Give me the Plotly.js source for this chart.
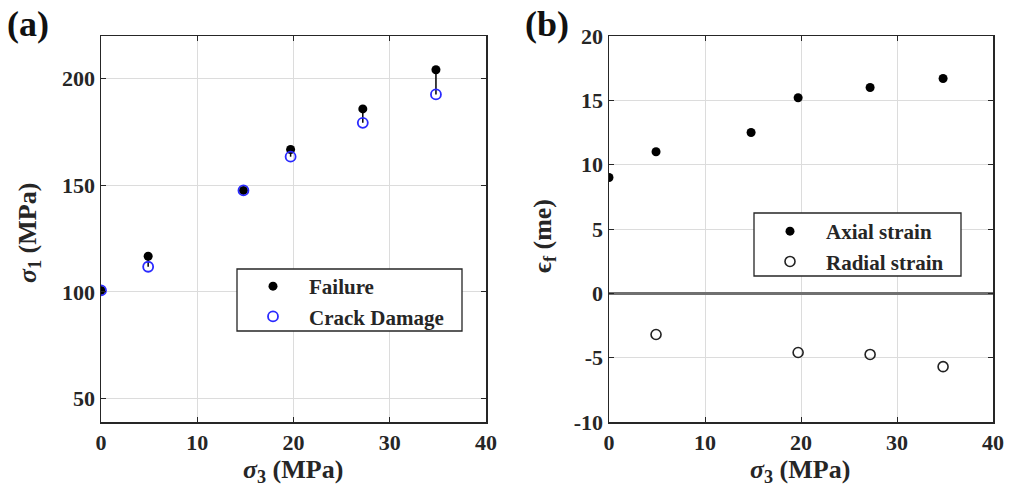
<!DOCTYPE html>
<html>
<head>
<meta charset="utf-8">
<script src="https://cdn.plot.ly/plotly-3.0.1.min.js"></script>
<style>
  html, body { margin: 0; padding: 0; background: #fff; }
  #chart { width: 1009px; height: 503px; }
</style>
</head>
<body>
<div id="chart"></div>
<script>
// Confining pressure (MPa) for each test
const sigma3 = [0, 4.9, 14.8, 19.7, 27.2, 34.8];

// Panel (a): peak stress at failure and crack-damage threshold (MPa)
const failureStress = [100.7, 116.7, 147.6, 166.8, 185.8, 204.2];
const crackDamageStress = [100.7, 111.8, 147.6, 163.4, 179.3, 192.6];

// Panel (b): strain at failure (milli-strain)
const axialStrain = [9.0, 11.0, 12.5, 15.2, 16.0, 16.7];
const radialStrain = [null, -3.2, null, -4.6, -4.75, -5.7];

// Tick positions and labels
const xTicks = [0, 10, 20, 30, 40];
const stressTicks = [50, 100, 150, 200];
const strainTicks = [-10, -5, 0, 5, 10, 15, 20];

const serif = "Liberation Serif";
const ink = "#262626";
const bold = v => "<b>" + v + "</b>";
const tickFont = { family: serif, size: 22, color: ink, weight: "bold" };
const titleFont = { family: serif, size: 26, color: ink };
const legendFont = { family: serif, size: 21, color: ink };

// Gap between failure and crack damage, drawn as a stem below each failure point
const gap = failureStress.map((v, i) => v - crackDamageStress[i]);

const traces = [
  {
    x: sigma3, y: failureStress, type: "scatter", mode: "markers",
    name: bold("Failure"), xaxis: "x", yaxis: "y", legend: "legend",
    marker: { color: "#000", size: 9 },
    error_y: {
      type: "data", symmetric: false,
      array: sigma3.map(() => 0), arrayminus: gap,
      color: "#000", thickness: 1.5, width: 0
    }
  },
  {
    x: sigma3, y: crackDamageStress, type: "scatter", mode: "markers",
    name: bold("Crack Damage"), xaxis: "x", yaxis: "y", legend: "legend",
    marker: { symbol: "circle-open", color: "#2a2aff", size: 10, line: { width: 1.8 } }
  },
  {
    x: sigma3, y: axialStrain, type: "scatter", mode: "markers",
    name: bold("Axial strain"), xaxis: "x2", yaxis: "y2", legend: "legend2",
    marker: { color: "#000", size: 9 }
  },
  {
    x: sigma3, y: radialStrain, type: "scatter", mode: "markers",
    name: bold("Radial strain"), xaxis: "x2", yaxis: "y2", legend: "legend2",
    marker: { symbol: "circle-open", color: "#222", size: 10, line: { width: 1.6 } }
  }
];

const axisBase = {
  showline: true, linecolor: ink, linewidth: 1.5, mirror: "ticks",
  ticks: "inside", ticklen: 5, tickwidth: 1, tickcolor: ink,
  showgrid: true, gridcolor: "#dcdcdc", gridwidth: 1,
  zeroline: false, tickfont: tickFont, tickmode: "array"
};

const xDomA = [101 / 1009, 486 / 1009];
const xDomB = [609 / 1009, 993 / 1009];
const yDom = [81 / 503, 467 / 503];

// Legends carry no border of their own; a framed white box sits behind each
const legendBase = {
  xanchor: "left", yanchor: "top",
  bgcolor: "rgba(0,0,0,0)", borderwidth: 0,
  font: legendFont, itemwidth: 62, tracegroupgap: 0
};
const legendBox = (x0, y0, x1, y1) => ({
  type: "rect", xref: "paper", yref: "paper", layer: "above",
  x0: x0 / 1009, x1: x1 / 1009, y0: 1 - y1 / 503, y1: 1 - y0 / 503,
  fillcolor: "#fff", line: { color: ink, width: 1.3 }
});

// Axis titles placed as free text so they sit at fixed distances from the frames
const axisTitle = (text, px, py, angle) => ({
  text: bold(text), xref: "paper", yref: "paper",
  x: px / 1009, y: 1 - py / 503, xanchor: "center", yanchor: "middle",
  textangle: angle, showarrow: false, font: titleFont
});
const panelTag = (text, px) => ({
  text: bold(text), xref: "paper", yref: "paper", x: px / 1009, y: 1 - 2 / 503,
  xanchor: "left", yanchor: "top", showarrow: false,
  font: { family: serif, size: 36, color: "#111" }
});

const layout = {
  width: 1009, height: 503,
  margin: { l: 0, r: 0, t: 0, b: 0 },
  paper_bgcolor: "#fff", plot_bgcolor: "#fff",
  xaxis: Object.assign({}, axisBase, {
    domain: xDomA, range: [0, 40], tickvals: xTicks, ticktext: xTicks.map(bold), anchor: "y"
  }),
  yaxis: Object.assign({}, axisBase, {
    domain: yDom, range: [39, 220], tickvals: stressTicks, ticktext: stressTicks.map(bold), anchor: "x"
  }),
  xaxis2: Object.assign({}, axisBase, {
    domain: xDomB, range: [0, 40], tickvals: xTicks, ticktext: xTicks.map(bold), anchor: "y2"
  }),
  yaxis2: Object.assign({}, axisBase, {
    domain: yDom, range: [-10, 20], tickvals: strainTicks, ticktext: strainTicks.map(bold),
    zeroline: true, zerolinecolor: "#707070", zerolinewidth: 3, anchor: "x2"
  }),
  legend: Object.assign({}, legendBase, { x: 237 / 1009, y: 1 - 266 / 503 }),
  legend2: Object.assign({}, legendBase, { x: 754 / 1009, y: 1 - 211 / 503 }),
  shapes: [legendBox(237, 269, 462, 331), legendBox(754, 213, 961, 276)],
  annotations: [
    axisTitle("<i>σ</i><sub>3</sub> (MPa)", 293, 471, 0),
    axisTitle("<i>σ</i><sub>3</sub> (MPa)", 800, 471, 0),
    axisTitle("<i>σ</i><sub>1</sub> (MPa)", 29, 233, -90),
    axisTitle("ϵ<sub>f</sub> (me)", 544, 236, -90),
    panelTag("(a)", 5),
    panelTag("(b)", 523)
  ],
  showlegend: true
};

Plotly.newPlot("chart", traces, layout, { staticPlot: true });
</script>
</body>
</html>
